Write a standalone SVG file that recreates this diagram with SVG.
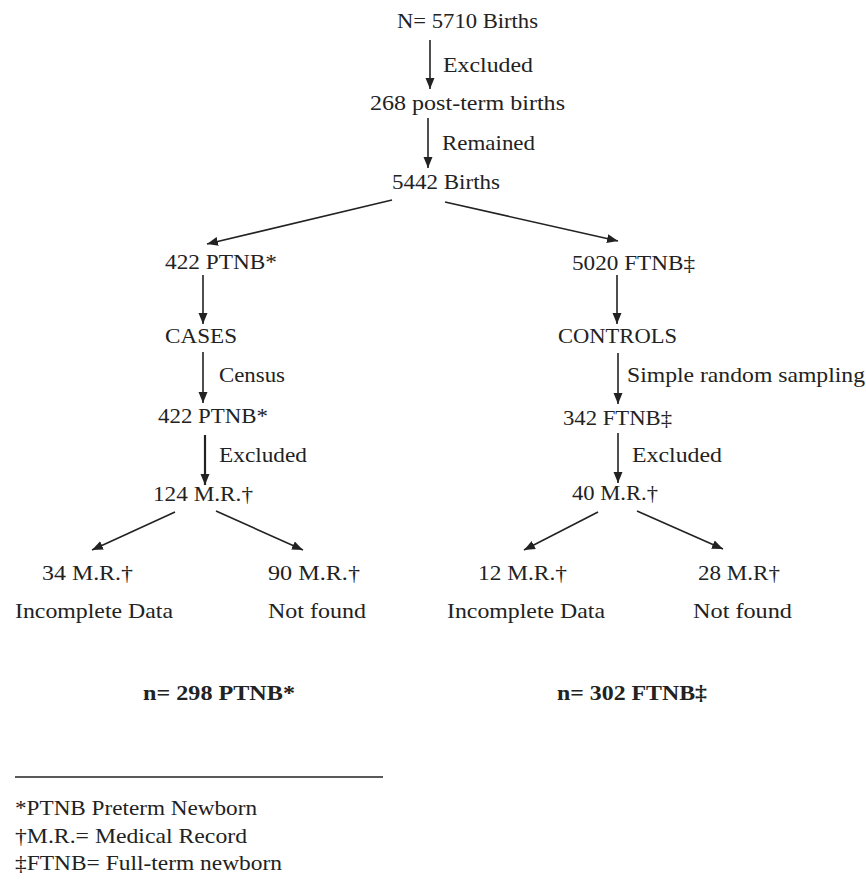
<svg xmlns="http://www.w3.org/2000/svg" width="866" height="881" viewBox="0 0 866 881">
<style>
text{font-family:'Times New Roman','Liberation Serif',Tinos,'DejaVu Serif',serif;font-size:21px;fill:#222}
.b{font-weight:bold}
.c{stroke:#222;stroke-width:1.6;fill:none;marker-end:url(#ah)}
.t{stroke-width:2.2}
</style>
<defs>
<marker id="ah" markerUnits="userSpaceOnUse" markerWidth="12" markerHeight="12" viewBox="0 0 12 12" refX="11" refY="6" orient="auto">
<path d="M0,1.5 L11,6 L0,10.5 Z" fill="#222"/>
</marker>
</defs>
<rect width="866" height="881" fill="#fff"/>
<g id="connectors">
<path class="c" d="M430,40 L430,89"/>
<path class="c" d="M428,118 L428,168"/>
<path class="c" d="M392,200 L207,244"/>
<path class="c" d="M445,202 L618,241"/>
<path class="c" d="M203,275 L203,324"/>
<path class="c" d="M203,352 L203,403"/>
<path class="c t" d="M205,435 L205,485"/>
<path class="c" d="M617,275 L617,324"/>
<path class="c" d="M618,353 L618,404"/>
<path class="c" d="M618,433 L618,483"/>
<path class="c" d="M175,512 L92,550"/>
<path class="c" d="M216,511 L303,550"/>
<path class="c" d="M598,512 L524,550"/>
<path class="c" d="M637,511 L723,549"/>
</g>
<g id="labels">
<text x="443" y="72" textLength="90" lengthAdjust="spacingAndGlyphs">Excluded</text>
<text x="442" y="150" textLength="93" lengthAdjust="spacingAndGlyphs">Remained</text>
<text x="219" y="382" textLength="66" lengthAdjust="spacingAndGlyphs">Census</text>
<text x="627" y="382" textLength="238" lengthAdjust="spacingAndGlyphs">Simple random sampling</text>
<text x="219" y="462" textLength="88" lengthAdjust="spacingAndGlyphs">Excluded</text>
<text x="632" y="462" textLength="90" lengthAdjust="spacingAndGlyphs">Excluded</text>
</g>
<g id="n-total"><text x="397" y="28" textLength="141" lengthAdjust="spacingAndGlyphs">N= 5710 Births</text></g>
<g id="n-postterm"><text x="370" y="110" textLength="195" lengthAdjust="spacingAndGlyphs">268 post-term births</text></g>
<g id="n-remained"><text x="392" y="189" textLength="108" lengthAdjust="spacingAndGlyphs">5442 Births</text></g>
<g id="n-ptnb1"><text x="165" y="269" textLength="112" lengthAdjust="spacingAndGlyphs">422 PTNB*</text></g>
<g id="n-ftnb1"><text x="572" y="270" textLength="123" lengthAdjust="spacingAndGlyphs">5020 FTNB‡</text></g>
<g id="n-cases"><text x="165" y="343" textLength="72" lengthAdjust="spacingAndGlyphs">CASES</text></g>
<g id="n-controls"><text x="558" y="343" textLength="119" lengthAdjust="spacingAndGlyphs">CONTROLS</text></g>
<g id="n-ptnb2"><text x="158" y="423" textLength="110" lengthAdjust="spacingAndGlyphs">422 PTNB*</text></g>
<g id="n-ftnb2"><text x="563" y="425" textLength="109" lengthAdjust="spacingAndGlyphs">342 FTNB‡</text></g>
<g id="n-mr124"><text x="153" y="501" textLength="100" lengthAdjust="spacingAndGlyphs">124 M.R.†</text></g>
<g id="n-mr40"><text x="572" y="500" textLength="86" lengthAdjust="spacingAndGlyphs">40 M.R.†</text></g>
<g id="n-mr34">
<text x="42" y="580" textLength="91" lengthAdjust="spacingAndGlyphs">34 M.R.†</text>
<text x="15" y="618" textLength="158" lengthAdjust="spacingAndGlyphs">Incomplete Data</text>
</g>
<g id="n-mr90">
<text x="268" y="580" textLength="92" lengthAdjust="spacingAndGlyphs">90 M.R.†</text>
<text x="268" y="618" textLength="98" lengthAdjust="spacingAndGlyphs">Not found</text>
</g>
<g id="n-mr12">
<text x="478" y="580" textLength="89" lengthAdjust="spacingAndGlyphs">12 M.R.†</text>
<text x="447" y="618" textLength="158" lengthAdjust="spacingAndGlyphs">Incomplete Data</text>
</g>
<g id="n-mr28">
<text x="698" y="580" textLength="82" lengthAdjust="spacingAndGlyphs">28 M.R†</text>
<text x="693" y="618" textLength="99" lengthAdjust="spacingAndGlyphs">Not found</text>
</g>
<g id="n-final-ptnb"><text class="b" x="143" y="700" textLength="152" lengthAdjust="spacingAndGlyphs">n= 298 PTNB*</text></g>
<g id="n-final-ftnb"><text class="b" x="557" y="700" textLength="150" lengthAdjust="spacingAndGlyphs">n= 302 FTNB‡</text></g>
<g id="footnotes">
<line x1="15" y1="777" x2="383" y2="777" stroke="#222" stroke-width="1.3"/>
<text x="15" y="815" textLength="242" lengthAdjust="spacingAndGlyphs">*PTNB Preterm Newborn</text>
<text x="15" y="843" textLength="232" lengthAdjust="spacingAndGlyphs">†M.R.= Medical Record</text>
<text x="15" y="870" textLength="267" lengthAdjust="spacingAndGlyphs">‡FTNB= Full-term newborn</text>
</g>
</svg>
